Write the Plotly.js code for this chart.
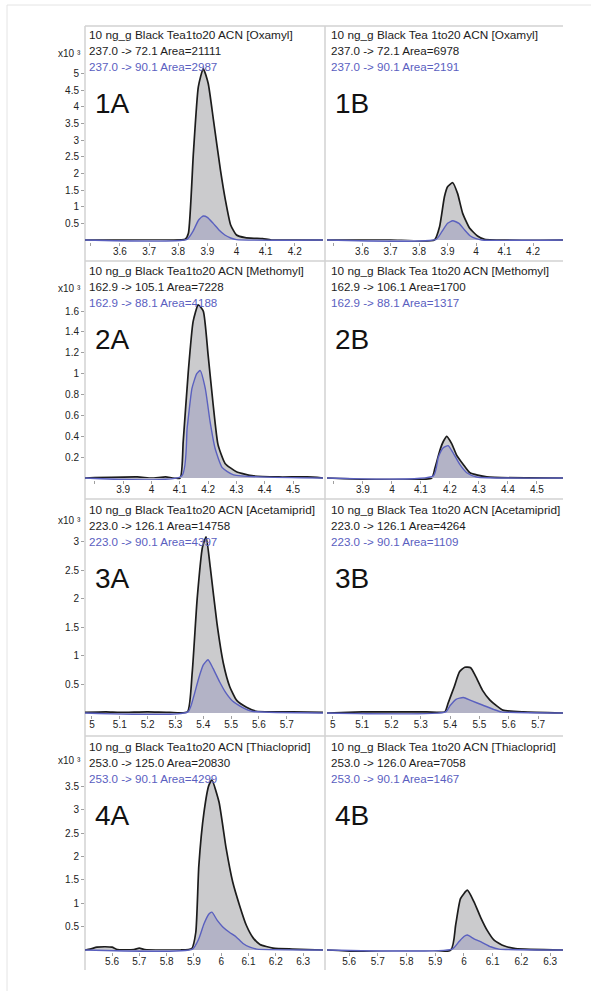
<!DOCTYPE html>
<html>
<head>
<meta charset="utf-8">
<script src="https://cdn.plot.ly/plotly-3.0.1.min.js"></script>
<style>html,body{margin:0;padding:0;background:#fff;}#chart{width:597px;height:991px;}</style>
</head>
<body>
<div id="chart"></div>
<script>
// ---------- DATA (intensity in x10^3 counts, time in min) ----------
const panelIds = ["1A","1B","2A","2B","3A","3B","4A","4B"];
const compounds = ["Oxamyl","Oxamyl","Methomyl","Methomyl","Acetamiprid","Acetamiprid","Thiacloprid","Thiacloprid"];
const sampleNames = ["10 ng_g Black Tea1to20 ACN","10 ng_g Black Tea 1to20 ACN",
                     "10 ng_g Black Tea1to20 ACN","10 ng_g Black Tea 1to20 ACN",
                     "10 ng_g Black Tea1to20 ACN","10 ng_g Black Tea 1to20 ACN",
                     "10 ng_g Black Tea1to20 ACN","10 ng_g Black Tea 1to20 ACN"];
const quantTransitions = ["237.0 -> 72.1","237.0 -> 72.1","162.9 -> 105.1","162.9 -> 106.1",
                          "223.0 -> 126.1","223.0 -> 126.1","253.0 -> 125.0","253.0 -> 126.0"];
const quantAreas = [21111, 6978, 7228, 1700, 14758, 4264, 20830, 7058];
const qualTransitions = ["237.0 -> 90.1","237.0 -> 90.1","162.9 -> 88.1","162.9 -> 88.1",
                         "223.0 -> 90.1","223.0 -> 90.1","253.0 -> 90.1","253.0 -> 90.1"];
const qualAreas = [2987, 2191, 4188, 1317, 4397, 1109, 4299, 1467];

// x tick values/labels per row (plus unlabeled minor ticks)
const xTickVals = [
  [3.6,3.7,3.8,3.9,4.0,4.1,4.2],
  [3.9,4.0,4.1,4.2,4.3,4.4,4.5],
  [5.0,5.1,5.2,5.3,5.4,5.5,5.6,5.7],
  [5.6,5.7,5.8,5.9,6.0,6.1,6.2,6.3]
];
const xTickText = [
  ["3.6","3.7","3.8","3.9","4","4.1","4.2"],
  ["3.9","4","4.1","4.2","4.3","4.4","4.5"],
  ["5","5.1","5.2","5.3","5.4","5.5","5.6","5.7"],
  ["5.6","5.7","5.8","5.9","6","6.1","6.2","6.3"]
];
const xUnlabeledTicks = [[3.5],[3.8],[],[]];
const yTickVals = [
  [0.5,1,1.5,2,2.5,3,3.5,4,4.5,5],
  [0.2,0.4,0.6,0.8,1,1.2,1.4,1.6],
  [0.5,1,1.5,2,2.5,3],
  [0.5,1,1.5,2,2.5,3,3.5]
];
const yTickText = [
  ["0.5","1","1.5","2","2.5","3","3.5","4","4.5","5"],
  ["0.2","0.4","0.6","0.8","1","1.2","1.4","1.6"],
  ["0.5","1","1.5","2","2.5","3"],
  ["0.5","1","1.5","2","2.5","3","3.5"]
];
const scaleLabel = "x10 \u00B3";

// 1A
const t1A_quant = [3.48,3.60,3.75,3.824,3.835,3.852,3.869,3.886,3.903,3.921,3.945,3.962,3.98,4.0,4.03,4.06,4.09,4.12,4.297];
const y1A_quant = [0,0,0,0.02,0.2,2.6,4.6,5.15,4.7,3.6,2.1,1.2,0.45,0.15,0.07,0.05,0.04,0,0];
const t1A_qual  = [3.48,3.83,3.85,3.87,3.886,3.9,3.92,3.94,3.96,3.98,4.0,4.297];
const y1A_qual  = [0,0.02,0.25,0.6,0.72,0.68,0.5,0.3,0.15,0.06,0.01,0];
// 1B
const t1B_quant = [3.477,3.7,3.854,3.872,3.889,3.9,3.918,3.935,3.953,3.977,4.005,4.03,4.305];
const y1B_quant = [0,0,0,0.4,1.3,1.6,1.72,1.4,0.8,0.36,0.12,0.02,0];
const t1B_qual  = [3.477,3.86,3.88,3.9,3.918,3.94,3.96,3.98,4.0,4.02,4.305];
const y1B_qual  = [0,0.02,0.25,0.5,0.58,0.5,0.3,0.12,0.04,0,0];
// 2A
const t2A_quant = [3.765,3.95,4.0,4.05,4.101,4.112,4.13,4.147,4.165,4.183,4.2,4.218,4.235,4.26,4.3,4.36,4.45,4.55,4.606];
const y2A_quant = [0,0.01,0,0.01,0,0.35,1.02,1.5,1.66,1.6,1.18,0.7,0.32,0.14,0.06,0.02,0.01,0.01,0];
const t2A_qual  = [3.765,4.107,4.126,4.143,4.16,4.172,4.19,4.207,4.225,4.25,4.29,4.606];
const y2A_qual  = [0,0.02,0.48,0.86,1.0,1.03,0.86,0.54,0.28,0.1,0.03,0];
// 2B
const t2B_quant = [3.776,4.137,4.148,4.166,4.177,4.189,4.206,4.223,4.246,4.269,4.327,4.59];
const y2B_quant = [0,0,0.09,0.27,0.35,0.40,0.33,0.22,0.13,0.05,0.01,0];
const t2B_qual  = [3.776,4.143,4.16,4.177,4.194,4.211,4.234,4.258,4.292,4.59];
const y2B_qual  = [0,0.02,0.2,0.29,0.31,0.24,0.13,0.05,0.01,0];
// 3A
const t3A_quant = [4.975,5.05,5.1,5.2,5.28,5.343,5.36,5.378,5.397,5.41,5.425,5.449,5.472,5.495,5.52,5.555,5.59,5.65,5.72,5.83];
const y3A_quant = [0.01,0.02,0.01,0.02,0.01,0.02,0.7,2.0,2.9,3.08,2.55,1.57,0.87,0.46,0.22,0.1,0.03,0.02,0.02,0.01];
const t3A_qual  = [4.975,5.345,5.365,5.383,5.4,5.417,5.435,5.458,5.48,5.505,5.54,5.575,5.83];
const y3A_qual  = [0,0.02,0.28,0.6,0.84,0.93,0.78,0.55,0.36,0.21,0.1,0.03,0];
// 3B
const t3B_quant = [4.98,5.1,5.13,5.32,5.382,5.393,5.414,5.432,5.45,5.47,5.488,5.51,5.535,5.56,5.58,5.65,5.785];
const y3B_quant = [0,0.02,0.02,0.02,0.02,0.17,0.46,0.72,0.8,0.79,0.63,0.4,0.23,0.12,0.05,0.02,0];
const t3B_qual  = [4.98,5.385,5.4,5.42,5.445,5.47,5.51,5.55,5.575,5.785];
const y3B_qual  = [0,0.02,0.13,0.24,0.27,0.22,0.14,0.06,0.02,0];
// 4A
const t4A_quant = [5.501,5.52,5.545,5.575,5.6,5.62,5.68,5.7,5.72,5.85,5.892,5.907,5.918,5.937,5.955,5.966,5.992,6.018,6.042,6.067,6.092,6.117,6.142,6.19,6.26,6.373];
const y4A_quant = [0,0.02,0.06,0.07,0.06,0.01,0.01,0.04,0.01,0,0.03,0.38,1.8,2.95,3.53,3.64,3.17,2.18,1.46,0.96,0.53,0.26,0.12,0.04,0.02,0];
const t4A_qual  = [5.501,5.895,5.918,5.937,5.955,5.966,5.985,6.005,6.03,6.055,6.08,6.105,6.13,6.373];
const y4A_qual  = [0,0.02,0.24,0.56,0.77,0.81,0.64,0.5,0.38,0.28,0.14,0.06,0.02,0];
// 4B
const t4B_quant = [5.523,5.954,5.971,5.988,6.012,6.035,6.058,6.081,6.105,6.139,6.18,6.345];
const y4B_quant = [0,0,0.53,1.1,1.28,1.03,0.7,0.42,0.21,0.09,0.03,0];
const t4B_qual  = [5.523,5.959,5.983,6.0,6.012,6.035,6.064,6.093,6.122,6.345];
const y4B_qual  = [0,0.02,0.18,0.29,0.32,0.24,0.16,0.07,0.02,0];

const quantT = [t1A_quant,t1B_quant,t2A_quant,t2B_quant,t3A_quant,t3B_quant,t4A_quant,t4B_quant];
const quantY = [y1A_quant,y1B_quant,y2A_quant,y2B_quant,y3A_quant,y3B_quant,y4A_quant,y4B_quant];
const qualT  = [t1A_qual,t1B_qual,t2A_qual,t2B_qual,t3A_qual,t3B_qual,t4A_qual,t4B_qual];
const qualY  = [y1A_qual,y1B_qual,y2A_qual,y2B_qual,y3A_qual,y3B_qual,y4A_qual,y4B_qual];

// ---------- LAYOUT GEOMETRY (pixels) ----------
const W = 597, H = 991;
const fx = p => p / W;
const fy = p => 1 - p / H;
const colL = [[85,323],[327,563]];
const rowTop = [26, 262, 501, 738];
const rowBot = [242, 480, 715, 952];
const rowZero = [240, 478, 713, 950];
const rowScale = [33.3, 104.3, 57.2, 46.7]; // px per unit
const xRanges = [[3.48,4.297],[3.477,4.305],[3.765,4.606],[3.776,4.59],[4.975,5.83],[4.98,5.785],[5.501,6.373],[5.523,6.345]];
const sepY = [26, 261, 499, 736];
const cellBottom = 970;
const x10Y = [53, 288, 520, 760];

const FONT = "Liberation Sans, Arial, Helvetica, sans-serif";
const BLACK = "#1c1c1c", BLUE = "#5a60bf";

const traces = [];
const layout = {
  width: W, height: H,
  margin: {l:0, r:0, t:0, b:0},
  paper_bgcolor: "#fff", plot_bgcolor: "rgba(0,0,0,0)",
  showlegend: false,
  font: {family: FONT, size: 10, color: "#222"},
  annotations: [], shapes: []
};

for (let k = 0; k < 8; k++) {
  const r = Math.floor(k / 2), c = k % 2;
  const n = k + 1;
  const xa = n === 1 ? "x" : "x" + n;
  const ya = n === 1 ? "y" : "y" + n;
  traces.push({
    type: "scatter", mode: "lines", x: quantT[k], y: quantY[k],
    xaxis: xa, yaxis: ya, fill: "tozeroy", fillcolor: "#cbcbcd",
    line: {color: BLACK, width: 1.7, shape: "spline", smoothing: 0.5},
    hoverinfo: "skip"
  });
  traces.push({
    type: "scatter", mode: "lines", x: qualT[k], y: qualY[k],
    xaxis: xa, yaxis: ya, fill: "tozeroy", fillcolor: "#b3b3c6",
    line: {color: BLUE, width: 1.4, shape: "spline", smoothing: 0.5},
    hoverinfo: "skip"
  });
  const ymin = -(rowBot[r] - rowZero[r]) / rowScale[r];
  const ymax = (rowZero[r] - rowTop[r]) / rowScale[r];
  layout["xaxis" + (n === 1 ? "" : n)] = {
    domain: [fx(colL[c][0]), fx(colL[c][1])],
    range: xRanges[k], anchor: ya,
    tickmode: "array", tickvals: xTickVals[r], ticktext: xTickText[r],
    ticks: "outside", ticklen: 3, tickwidth: 1, tickcolor: "#a0a0a0",
    ticklabelstandoff: -3,
    minor: {tickmode: "array", tickvals: xUnlabeledTicks[r], ticks: "outside", ticklen: 3, tickwidth: 1, tickcolor: "#a0a0a0", showgrid: false},
    tickfont: {family: FONT, size: 10, color: "#222"},
    showgrid: false, zeroline: false, showline: false, fixedrange: true
  };
  layout["yaxis" + (n === 1 ? "" : n)] = {
    domain: [fy(rowBot[r]), fy(rowTop[r])],
    range: [ymin, ymax], anchor: xa,
    tickmode: "array", tickvals: yTickVals[r], ticktext: yTickText[r],
    ticks: c === 0 ? "outside" : "", ticklen: 3, tickwidth: 1, tickcolor: "#a0a0a0",
    showticklabels: c === 0,
    tickfont: {family: FONT, size: 10, color: "#222"},
    showgrid: false, zeroline: false, showline: false, fixedrange: true
  };
  // header text
  const tx = c === 0 ? 87 : 329;
  const lines = [
    [sampleNames[k] + " [" + compounds[k] + "]", BLACK, 11.8],
    [quantTransitions[k] + " Area=" + quantAreas[k], BLACK, 11.6],
    [qualTransitions[k] + " Area=" + qualAreas[k], BLUE, 11.6]
  ];
  const offs = [9, 24.5, 40];
  lines.forEach((ln, i) => {
    layout.annotations.push({
      xref: "paper", yref: "paper", x: fx(tx), y: fy(rowTop[r] + offs[i]),
      xanchor: "left", yanchor: "middle", showarrow: false,
      text: ln[0], font: {family: FONT, size: ln[2], color: ln[1]}
    });
  });
  // panel id
  layout.annotations.push({
    xref: "paper", yref: "paper", x: fx(c === 0 ? 93 : 333), y: fy(rowTop[r] + 77),
    xanchor: "left", yanchor: "middle", showarrow: false,
    text: panelIds[k], font: {family: FONT, size: 28, color: "#111"}
  });
  if (c === 0) {
    layout.annotations.push({
      xref: "paper", yref: "paper", x: fx(83), y: fy(x10Y[r]),
      xanchor: "right", yanchor: "middle", showarrow: false,
      text: scaleLabel, font: {family: FONT, size: 10, color: "#222"}
    });
  }
}

// panel frame lines
const GREY = "#d2d2d2";
sepY.forEach(y => layout.shapes.push({type:"line", xref:"paper", yref:"paper",
  x0: fx(85), x1: fx(563), y0: fy(y), y1: fy(y), line:{color: GREY, width: 1.5}, layer: "below"}));
[85, 325].forEach(x => layout.shapes.push({type:"line", xref:"paper", yref:"paper",
  x0: fx(x), x1: fx(x), y0: fy(26), y1: fy(cellBottom), line:{color: GREY, width: 1.5}, layer: "below"}));
// outer frame
layout.shapes.push({type:"line", xref:"paper", yref:"paper", x0: fx(7), x1: fx(591), y0: fy(5), y1: fy(5), line:{color:"#e4e4e4", width:1}});
layout.shapes.push({type:"line", xref:"paper", yref:"paper", x0: fx(7), x1: fx(7), y0: fy(5), y1: fy(991), line:{color:"#e4e4e4", width:1}});

Plotly.newPlot("chart", traces, layout, {staticPlot: true, displayModeBar: false});
</script>
</body>
</html>
